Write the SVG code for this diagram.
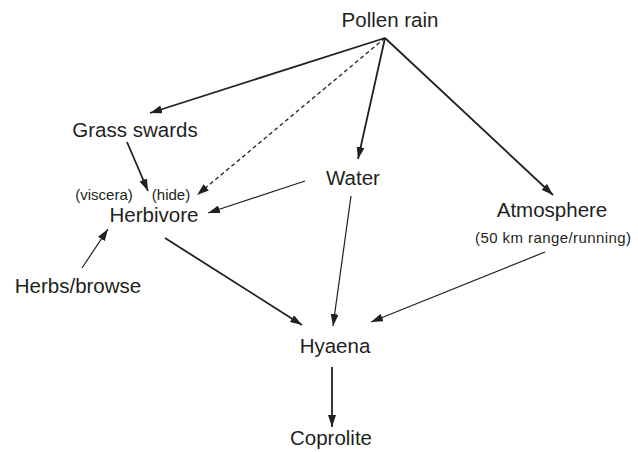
<svg xmlns="http://www.w3.org/2000/svg" width="638" height="452" viewBox="0 0 638 452">
<style>
text{font-family:"Liberation Sans",Arial,sans-serif;fill:#231f20;text-anchor:middle}
.n{font-size:20.5px}
.s{font-size:15px}
.c{stroke:#231f20;fill:none}
.t{stroke-width:1.8}
.h{stroke-width:1.2}
.d{stroke-width:1.3;stroke-dasharray:4 3}
</style>
<defs>
<marker id="a" viewBox="0 0 12 8" refX="12" refY="4" markerWidth="12" markerHeight="8" markerUnits="userSpaceOnUse" orient="auto">
<path d="M0,0 L12,4 L0,8 z" fill="#231f20"/>
</marker>
</defs>
<rect width="638" height="452" fill="#fff"/>
<g id="connectors">
<line class="c t" x1="385" y1="38" x2="150" y2="113" marker-end="url(#a)"/>
<line class="c d" x1="385" y1="38" x2="197" y2="195" marker-end="url(#a)"/>
<line class="c t" x1="385" y1="38" x2="358" y2="159" marker-end="url(#a)"/>
<line class="c t" x1="385" y1="38" x2="553" y2="195" marker-end="url(#a)"/>
<line class="c t" x1="127" y1="142" x2="148" y2="191" marker-end="url(#a)"/>
<line class="c h" x1="305" y1="181" x2="208" y2="213" marker-end="url(#a)"/>
<line class="c h" x1="82" y1="268" x2="108" y2="229" marker-end="url(#a)"/>
<line class="c t" x1="165" y1="238" x2="302" y2="325" marker-end="url(#a)"/>
<line class="c h" x1="351" y1="196" x2="333" y2="326" marker-end="url(#a)"/>
<line class="c h" x1="545" y1="252" x2="371" y2="322" marker-end="url(#a)"/>
<line class="c t" x1="332" y1="367" x2="332" y2="427" marker-end="url(#a)"/>
</g>
<g id="pollen"><text class="n" x="390" y="27">Pollen rain</text></g>
<g id="grass"><text class="n" x="135" y="137">Grass swards</text></g>
<g id="water"><text class="n" x="353" y="185">Water</text></g>
<g id="herbivore">
<text class="s" x="104" y="200">(viscera)</text>
<text class="s" x="171" y="200">(hide)</text>
<text class="n" x="154" y="222">Herbivore</text>
</g>
<g id="atmosphere">
<text class="n" x="552" y="217">Atmosphere</text>
<text class="s" x="553" y="243" textLength="156" lengthAdjust="spacing">(50 km range/running)</text>
</g>
<g id="herbs"><text class="n" x="78" y="293">Herbs/browse</text></g>
<g id="hyaena"><text class="n" x="335" y="353">Hyaena</text></g>
<g id="coprolite"><text class="n" x="331" y="445">Coprolite</text></g>
</svg>
